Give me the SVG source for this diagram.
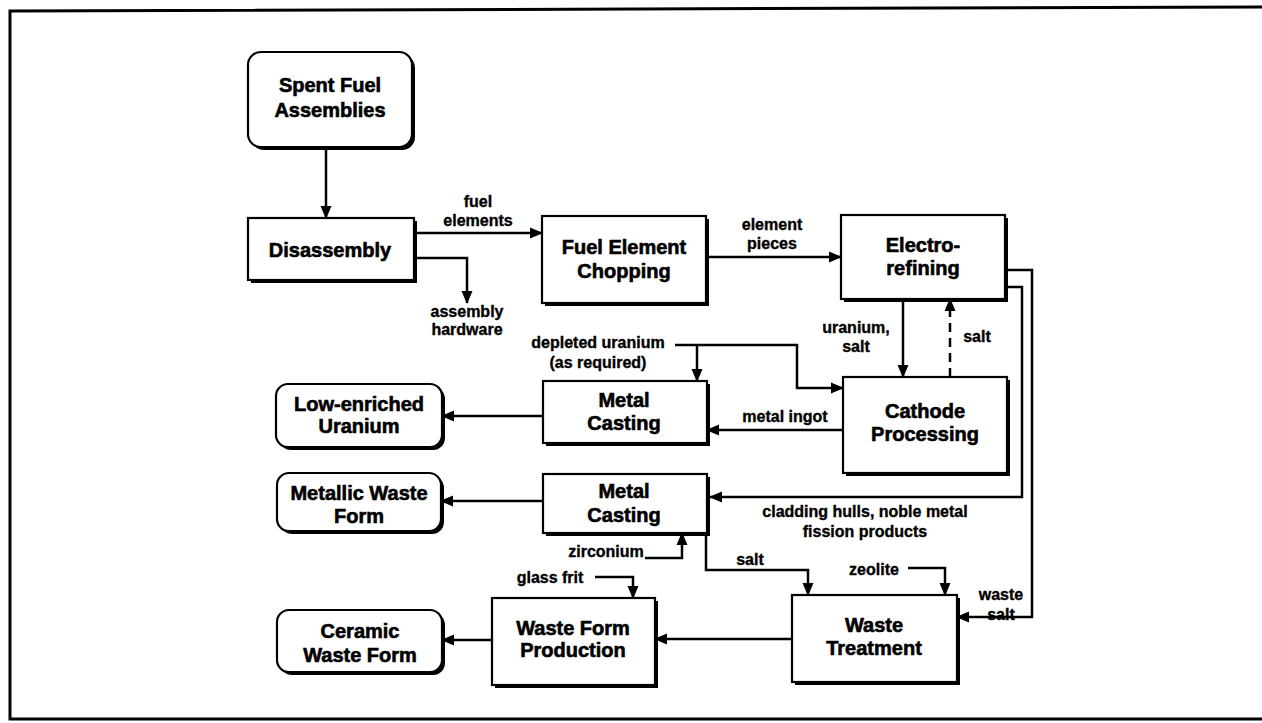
<svg xmlns="http://www.w3.org/2000/svg" width="1262" height="723" viewBox="0 0 1262 723">
<style>
.box{fill:#fff;stroke:#000;stroke-width:2.2}
.sh{fill:#000}
.bt{font-family:"Liberation Sans",Arial,sans-serif;font-weight:bold;font-size:20px;text-anchor:middle;fill:#000;stroke:#000;stroke-width:0.6}
.lb{font-family:"Liberation Sans",Arial,sans-serif;font-weight:bold;font-size:16px;text-anchor:middle;fill:#000;stroke:#000;stroke-width:0.35}
.c{fill:none;stroke:#000;stroke-width:2.5}
</style>
<defs>
<marker id="ah" markerUnits="userSpaceOnUse" markerWidth="13" markerHeight="12" refX="12" refY="6" orient="auto">
<path d="M0,0.5 L13,6 L0,11.5 z" fill="#000"/>
</marker>
</defs>
<rect width="1262" height="723" fill="#fff"/>
<path d="M1262,7 L10,11 L10,719 L1262,719" fill="none" stroke="#000" stroke-width="3"/>

<g id="spent">
<rect class="sh" x="251" y="55" width="164" height="95" rx="13"/>
<rect class="box" x="248" y="52" width="164" height="95" rx="13"/>
<text class="bt" x="330" y="92">Spent Fuel</text>
<text class="bt" x="330" y="117">Assemblies</text>
</g>
<g id="disassembly">
<rect class="sh" x="251" y="221" width="166" height="62"/>
<rect class="box" x="248" y="218" width="166" height="62"/>
<text class="bt" x="330" y="257">Disassembly</text>
</g>
<g id="chopping">
<rect class="sh" x="545" y="219" width="164" height="87"/>
<rect class="box" x="542" y="216" width="164" height="87"/>
<text class="bt" x="624" y="254">Fuel Element</text>
<text class="bt" x="624" y="278">Chopping</text>
</g>
<g id="electro">
<rect class="sh" x="844" y="218" width="164" height="84"/>
<rect class="box" x="841" y="215" width="164" height="84"/>
<text class="bt" x="923" y="252">Electro-</text>
<text class="bt" x="923" y="275">refining</text>
</g>
<g id="cathode">
<rect class="sh" x="846" y="380" width="164" height="96"/>
<rect class="box" x="843" y="377" width="164" height="96"/>
<text class="bt" x="925" y="418">Cathode</text>
<text class="bt" x="925" y="441">Processing</text>
</g>
<g id="casting1">
<rect class="sh" x="546" y="384" width="164" height="62"/>
<rect class="box" x="543" y="381" width="164" height="62"/>
<text class="bt" x="624" y="407">Metal</text>
<text class="bt" x="624" y="430">Casting</text>
</g>
<g id="leu">
<rect class="sh" x="279" y="387" width="166" height="63" rx="12"/>
<rect class="box" x="276" y="384" width="166" height="63" rx="12"/>
<text class="bt" x="359" y="411">Low-enriched</text>
<text class="bt" x="359" y="433">Uranium</text>
</g>
<g id="casting2">
<rect class="sh" x="546" y="477" width="164" height="59"/>
<rect class="box" x="543" y="474" width="164" height="59"/>
<text class="bt" x="624" y="498">Metal</text>
<text class="bt" x="624" y="522">Casting</text>
</g>
<g id="metallic">
<rect class="sh" x="280" y="476" width="164" height="58" rx="12"/>
<rect class="box" x="277" y="473" width="164" height="58" rx="12"/>
<text class="bt" x="359" y="500">Metallic Waste</text>
<text class="bt" x="359" y="523">Form</text>
</g>
<g id="treatment">
<rect class="sh" x="795" y="598" width="165" height="87"/>
<rect class="box" x="792" y="595" width="165" height="87"/>
<text class="bt" x="874" y="632">Waste</text>
<text class="bt" x="874" y="655">Treatment</text>
</g>
<g id="production">
<rect class="sh" x="495" y="601" width="163" height="87"/>
<rect class="box" x="492" y="598" width="163" height="87"/>
<text class="bt" x="573" y="635">Waste Form</text>
<text class="bt" x="573" y="657">Production</text>
</g>
<g id="ceramic">
<rect class="sh" x="280" y="613" width="165" height="62" rx="12"/>
<rect class="box" x="277" y="610" width="165" height="62" rx="12"/>
<text class="bt" x="360" y="638">Ceramic</text>
<text class="bt" x="360" y="662">Waste Form</text>
</g>

<g id="connectors">
<path class="c" d="M326,150 L326,218" marker-end="url(#ah)"/>
<path class="c" d="M414,233 L542,233" marker-end="url(#ah)"/>
<path class="c" d="M414,258 L467,258 L467,303" marker-end="url(#ah)"/>
<path class="c" d="M706,257 L841,257" marker-end="url(#ah)"/>
<path class="c" d="M903,302 L903,377" marker-end="url(#ah)"/>
<path class="c" d="M950,377 L950,299" stroke-dasharray="9,6" marker-end="url(#ah)"/>
<path class="c" d="M675,345 L797,345 L797,388 L843,388" marker-end="url(#ah)"/>
<path class="c" d="M697,345 L697,381" marker-end="url(#ah)"/>
<path class="c" d="M843,430 L707,430" marker-end="url(#ah)"/>
<path class="c" d="M543,416 L442,416" marker-end="url(#ah)"/>
<path class="c" d="M543,501 L441,501" marker-end="url(#ah)"/>
<path class="c" stroke-width="2" d="M1008,287 L1022,287 L1022,497 L710,497" marker-end="url(#ah)"/>
<path class="c" stroke-width="2" d="M1008,270 L1032,270 L1032,617 L957,617" marker-end="url(#ah)"/>
<path class="c" d="M645,558 L682,558 L682,533" marker-end="url(#ah)"/>
<path class="c" d="M706,536 L706,570 L808,570 L808,595" marker-end="url(#ah)"/>
<path class="c" d="M908,568 L945,568 L945,595" marker-end="url(#ah)"/>
<path class="c" d="M595,577 L633,577 L633,598" marker-end="url(#ah)"/>
<path class="c" d="M792,639 L655,639" marker-end="url(#ah)"/>
<path class="c" d="M492,640 L442,640" marker-end="url(#ah)"/>
</g>

<g id="labels">
<text class="lb" x="478" y="207">fuel</text>
<text class="lb" x="478" y="226">elements</text>
<text class="lb" x="467" y="317">assembly</text>
<text class="lb" x="467" y="335">hardware</text>
<text class="lb" x="772" y="230">element</text>
<text class="lb" x="772" y="249">pieces</text>
<text class="lb" x="856" y="333">uranium,</text>
<text class="lb" x="856" y="352">salt</text>
<text class="lb" x="977" y="342">salt</text>
<text class="lb" x="598" y="348">depleted uranium</text>
<text class="lb" x="598" y="368">(as required)</text>
<text class="lb" x="785" y="422">metal ingot</text>
<text class="lb" x="865" y="517">cladding hulls, noble metal</text>
<text class="lb" x="865" y="537">fission products</text>
<text class="lb" x="606" y="557">zirconium</text>
<text class="lb" x="750" y="565">salt</text>
<text class="lb" x="874" y="575">zeolite</text>
<text class="lb" x="550" y="583">glass frit</text>
<text class="lb" x="1001" y="600">waste</text>
<text class="lb" x="1001" y="620">salt</text>
</g>
</svg>
